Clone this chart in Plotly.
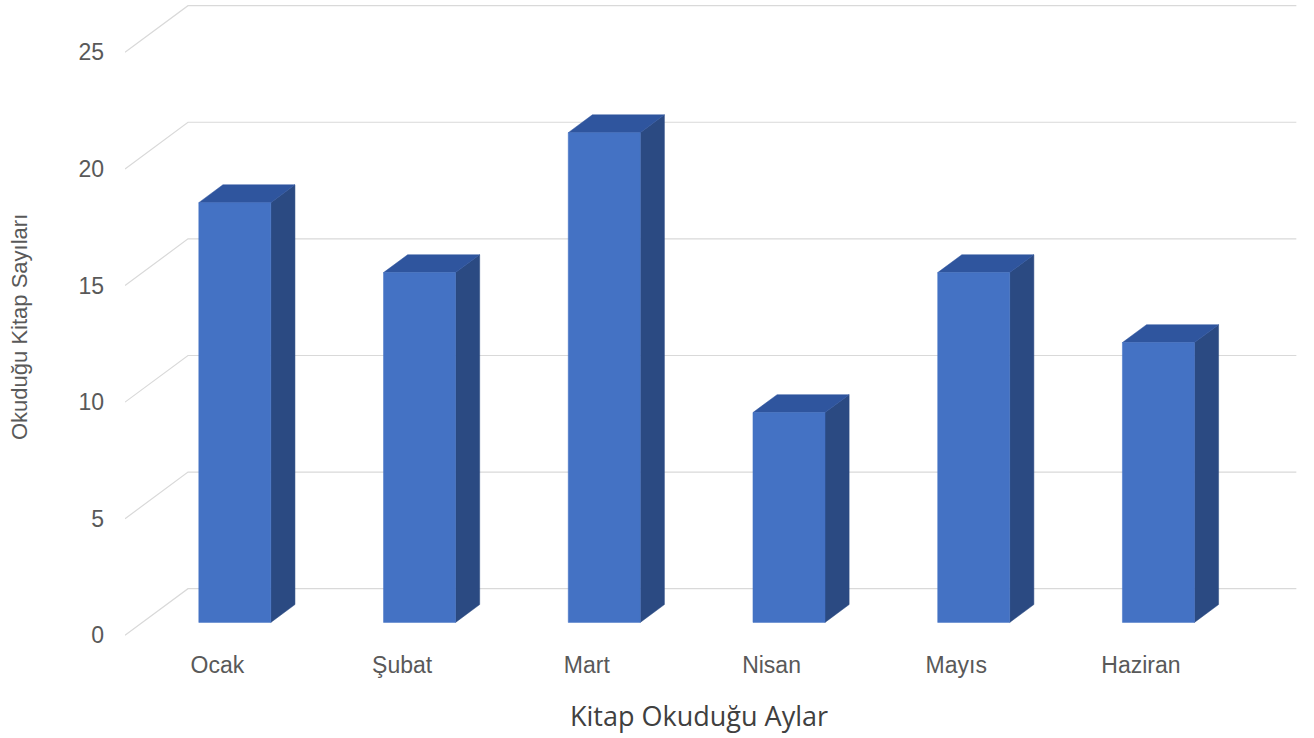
import plotly.graph_objects as go

# Monthly reading counts
months = ["Ocak", "Şubat", "Mart", "Nisan", "Mayıs", "Haziran"]
books = [18, 15, 21, 9, 15, 12]
y_ticks = [0, 5, 10, 15, 20, 25]

# Pseudo-3D geometry (in axis units)
DX, DY = 0.341, 2.0          # offset from front plane to back wall
F_FRONT, F_BACK = 0.277, 0.66  # depth fractions for bar front/back faces
BAR_W = 0.39

GRID = "#d9d9d9"
FRONT = "#4472C4"
SIDE = "#2B4A82"
TOP = "#2F559E"

fig = go.Figure()

# back wall gridlines + slanted side-wall lines
gx, gy = [], []
for v in y_ticks:
    gx += [-0.5, -0.5 + DX, 5.5 + DX, None]
    gy += [v, v + DY, v + DY, None]
fig.add_trace(go.Scatter(x=gx, y=gy, mode="lines", line=dict(color=GRID, width=1.2),
                         hoverinfo="skip", showlegend=False))

# bar faces
fx, fy, sx, sy, tx, ty = [], [], [], [], [], []
ddx = (F_BACK - F_FRONT) * DX
ddy = (F_BACK - F_FRONT) * DY
for i, v in enumerate(books):
    x0 = i - BAR_W / 2 + F_FRONT * DX
    x1 = x0 + BAR_W
    y0 = F_FRONT * DY
    y1 = v + F_FRONT * DY
    fx += [x0, x1, x1, x0, x0, None]
    fy += [y0, y0, y1, y1, y0, None]
    sx += [x1, x1 + ddx, x1 + ddx, x1, x1, None]
    sy += [y0, y0 + ddy, y1 + ddy, y1, y0, None]
    tx += [x0, x0 + ddx, x1 + ddx, x1, x0, None]
    ty += [y1, y1 + ddy, y1 + ddy, y1, y1, None]

for xs, ys, col in ((sx, sy, SIDE), (tx, ty, TOP), (fx, fy, FRONT)):
    fig.add_trace(go.Scatter(x=xs, y=ys, mode="lines", fill="toself", fillcolor=col,
                             line=dict(color=col, width=0.5),
                             hoverinfo="skip", showlegend=False))

fig.update_layout(
    width=1314, height=738,
    margin=dict(l=125, r=16, t=1, b=91),
    paper_bgcolor="white", plot_bgcolor="white",
    font=dict(family="Liberation Sans, Arial, sans-serif", color="#595959"),
    xaxis=dict(range=[-0.5, 5.5 + DX + 0.009], tickvals=list(range(len(months))),
               ticktext=months, showgrid=False, zeroline=False, showline=False,
               ticks="", tickfont=dict(size=23, color="#595959"),
               ticklabelstandoff=2),
    yaxis=dict(range=[-0.5, 27.2], tickvals=y_ticks, showgrid=False, zeroline=False,
               showline=False, ticks="", tickfont=dict(size=23, color="#595959"),
               ticklabelstandoff=20),
    annotations=[
        dict(text="Kitap Okuduğu Aylar", xref="paper", yref="paper",
             x=(699 - 125) / 1173, y=-(716 - 647) / 646, xanchor="center", yanchor="middle",
             showarrow=False, font=dict(family="Open Sans, sans-serif", size=27, color="#404040")),
        dict(text="Okuduğu Kitap Sayıları", xref="paper", yref="paper",
             x=-(125 - 19) / 1173, y=(647 - 327) / 646, xanchor="center", yanchor="middle",
             textangle=-90, showarrow=False,
             font=dict(family="Liberation Sans, Arial, sans-serif", size=22, color="#595959")),
    ],
)

fig.write_html("out.html")
